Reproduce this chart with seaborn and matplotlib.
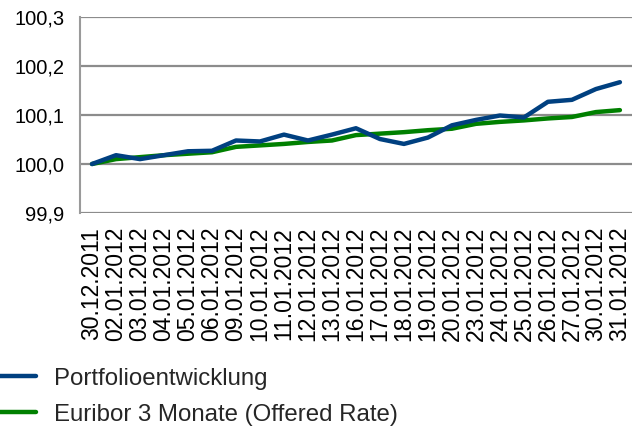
import pandas as pd
import matplotlib
matplotlib.use("Agg")
import matplotlib.pyplot as plt
import seaborn as sns
from matplotlib.ticker import FuncFormatter

# Daten
dates = ["30.12.2011", "02.01.2012", "03.01.2012", "04.01.2012", "05.01.2012",
         "06.01.2012", "09.01.2012", "10.01.2012", "11.01.2012", "12.01.2012",
         "13.01.2012", "16.01.2012", "17.01.2012", "18.01.2012", "19.01.2012",
         "20.01.2012", "23.01.2012", "24.01.2012", "25.01.2012", "26.01.2012",
         "27.01.2012", "30.01.2012", "31.01.2012"]
portfolio = [100.000, 100.018, 100.010, 100.018, 100.026, 100.027, 100.048, 100.046,
             100.060, 100.048, 100.060, 100.073, 100.051, 100.041, 100.054, 100.079,
             100.090, 100.099, 100.095, 100.127, 100.131, 100.153, 100.167]
euribor = [100.000, 100.010, 100.014, 100.018, 100.021, 100.024, 100.035, 100.038,
           100.041, 100.045, 100.048, 100.059, 100.062, 100.065, 100.069, 100.072,
           100.082, 100.086, 100.089, 100.093, 100.096, 100.106, 100.110]
series_names = ["Portfolioentwicklung", "Euribor 3 Monate (Offered Rate)"]
colors = ["#004080", "#008000"]

df = pd.concat([
    pd.DataFrame({"Datum": dates, "Wert": portfolio, "Serie": series_names[0]}),
    pd.DataFrame({"Datum": dates, "Wert": euribor, "Serie": series_names[1]}),
])

sns.set_style("white")
plt.rcParams["font.family"] = ["Liberation Sans", "DejaVu Sans"]

fig = plt.figure(figsize=(6.37, 4.26), dpi=100)
ax = fig.add_axes([0.1256, 0.5, 0.8664, 0.46])

sns.lineplot(data=df, x="Datum", y="Wert", hue="Serie", hue_order=series_names[::-1],
             palette=dict(zip(series_names, colors)), linewidth=3.2, sort=False,
             ax=ax, legend=False)

ax.set_xlim(-0.5, len(dates) - 0.5)
ax.set_ylim(99.9, 100.3)
ax.set_yticks([99.9, 100.0, 100.1, 100.2, 100.3])
ax.yaxis.set_major_formatter(FuncFormatter(lambda v, p: f"{v:.1f}".replace(".", ",")))
ax.set_xticks(range(len(dates)))
ax.set_xticklabels(dates, rotation=90)
ax.set_xlabel("")
ax.set_ylabel("")

ax.grid(axis="y", color="#8c8c8c", linewidth=1.6)
ax.set_axisbelow(True)
for s in ["top", "right", "bottom"]:
    ax.spines[s].set_visible(False)
ax.spines["left"].set_color("#9a9a9a")
ax.spines["left"].set_linewidth(1.5)
ax.tick_params(axis="y", length=0, pad=11, labelsize=14.5, colors="black")
ax.tick_params(axis="x", length=0, pad=10, labelsize=16.5, colors="black")

# Legende unten links
handles = [plt.Line2D([], [], color=c, linewidth=3.2) for c in colors]
fig.legend(handles, series_names, loc="upper left", bbox_to_anchor=(-0.0148, 0.1597),
           frameon=False, fontsize=17.3, handlelength=1.5, handletextpad=0.76,
           labelspacing=0.58, borderaxespad=0)

fig.savefig("out.png", dpi=100)
